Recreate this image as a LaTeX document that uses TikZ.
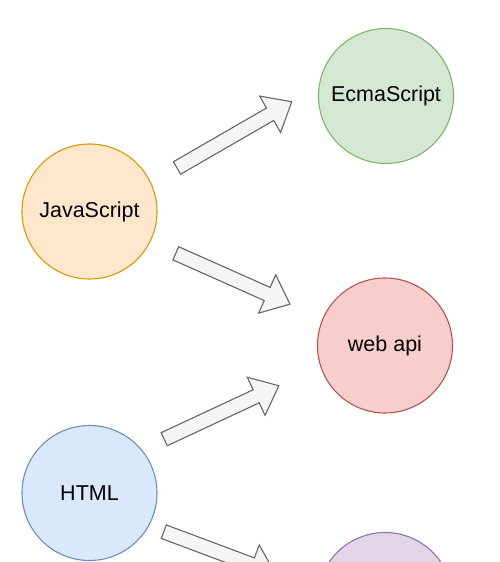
\documentclass[tikz,border=0pt]{standalone}
\usepackage{fontspec}
\setmainfont{Liberation Sans}
\definecolor{orfill}{HTML}{FFE6CC}\definecolor{ordraw}{HTML}{D79B00}
\definecolor{grfill}{HTML}{D5E8D4}\definecolor{grdraw}{HTML}{82B366}
\definecolor{rdfill}{HTML}{F8CECC}\definecolor{rddraw}{HTML}{B85450}
\definecolor{blfill}{HTML}{DAE8FC}\definecolor{bldraw}{HTML}{6C8EBF}
\definecolor{pufill}{HTML}{E1D5E7}\definecolor{pudraw}{HTML}{9673A6}
\definecolor{arfill}{HTML}{F5F5F5}\definecolor{ardraw}{HTML}{666666}
\newcommand\blockarrow[4]{%
  \begin{scope}[shift={(#1,#2)},rotate=#3]
    \draw[barrow] (0,-7.2) -- (#4-25,-7.2) -- (#4-25,-21) -- (#4,0)
      -- (#4-25,21) -- (#4-25,7.2) -- (0,7.2) -- cycle;
  \end{scope}}
\begin{document}
\begin{tikzpicture}[x=1pt,y=1pt,
  bub/.style={circle,minimum size=135pt,inner sep=0pt,line width=1.1pt,
    font=\fontsize{21.5}{25}\selectfont},
  barrow/.style={fill=arfill,draw=ardraw,line width=1.1pt,line join=miter}]
\useasboundingbox (0,0) rectangle (500,562);
\clip (0,0) rectangle (500,562);
\fill[white] (0,0) rectangle (500,562);
\node[bub,fill=orfill,draw=ordraw] (js) at (89.5,350.5) {JavaScript};
\node[bub,fill=grfill,draw=grdraw] (ecma) at (386,466) {EcmaScript};
\node[bub,fill=rdfill,draw=rddraw] (web) at (385,216.5) {web api};
\node[bub,fill=blfill,draw=bldraw] (html) at (89.5,69) {HTML};
\node[bub,fill=pufill,draw=pudraw] (purple) at (385,-38) {};
\blockarrow{177}{394}{30}{132.5}
\blockarrow{175.8}{308.7}{-24}{125}
\blockarrow{164.2}{122.8}{25}{126.5}
\blockarrow{163.8}{30.3}{-20.5}{119}
\end{tikzpicture}
\end{document}
